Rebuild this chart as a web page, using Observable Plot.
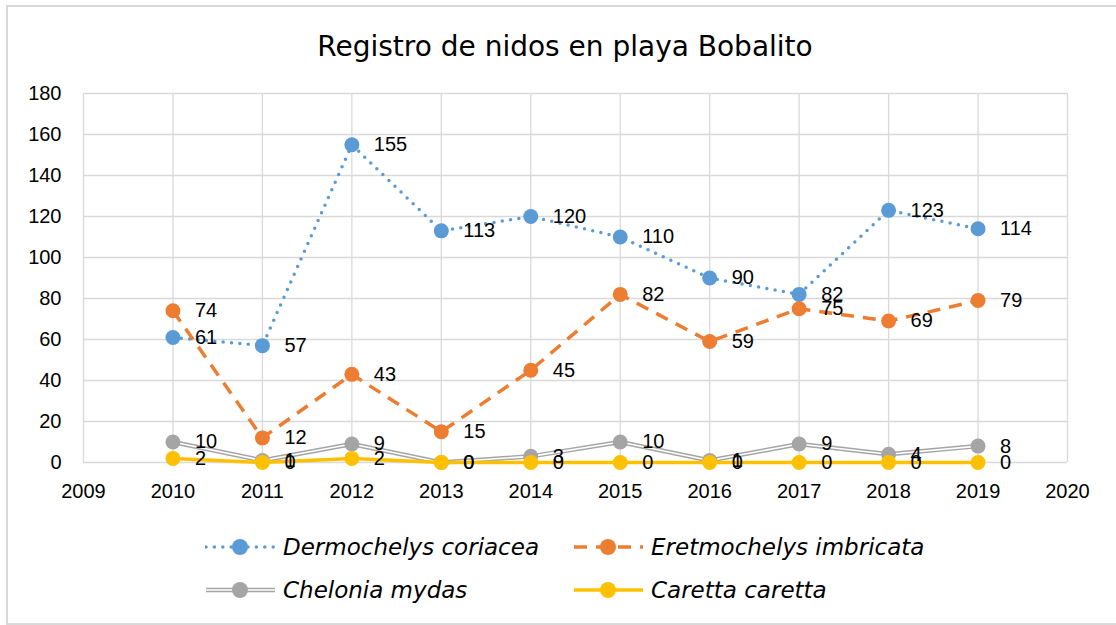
<!DOCTYPE html>
<html>
<head>
<meta charset="utf-8">
<script src="https://cdn.jsdelivr.net/npm/d3@7"></script>
<script src="https://cdn.jsdelivr.net/npm/@observablehq/plot@0.6"></script>
<style>
  html, body { margin: 0; padding: 0; background: #fff; }
  #wrap { position: relative; width: 1116px; height: 625px; overflow: hidden; background: #fff; }
  #border { position: absolute; left: 6px; top: 5px; width: 1130px; height: 616px; border: 2px solid #d9d9d9; box-sizing: content-box; }
  #title { position: absolute; top: 27px; left: 0; width: 1130px; text-align: center; font-family: "DejaVu Sans", Verdana, sans-serif; font-size: 28px; color: #000; line-height: 40px; }
  #chart { position: absolute; top: 80px; left: 0; }
  #legend { position: absolute; top: 525px; left: 0; width: 1116px; height: 100px; }
  .item { position: absolute; display: flex; align-items: center; height: 40px; }
  .item span { font-family: "DejaVu Sans", Verdana, sans-serif; font-style: italic; font-size: 23px; color: #000; margin-left: 6px; white-space: nowrap; }
</style>
</head>
<body>
<div id="wrap">
  <div id="border"></div>
  <div id="title">Registro de nidos en playa Bobalito</div>
  <div id="chart"></div>
  <div id="legend"></div>
</div>
<script>
const years = [2010, 2011, 2012, 2013, 2014, 2015, 2016, 2017, 2018, 2019];
const xTicks = [2009, 2010, 2011, 2012, 2013, 2014, 2015, 2016, 2017, 2018, 2019, 2020];
const yTicks = [0, 20, 40, 60, 80, 100, 120, 140, 160, 180];
const seriesNames = ["Dermochelys coriacea", "Eretmochelys imbricata", "Chelonia mydas", "Caretta caretta"];
const dermochelys = [61, 57, 155, 113, 120, 110, 90, 82, 123, 114];
const eretmochelys = [74, 12, 43, 15, 45, 82, 59, 75, 69, 79];
const chelonia = [10, 1, 9, 0, 3, 10, 1, 9, 4, 8];
const caretta = [2, 0, 2, 0, 0, 0, 0, 0, 0, 0];
const colors = ["#5B9BD5", "#ED7D31", "#A5A5A5", "#FFC000"];

const valuesList = [dermochelys, eretmochelys, chelonia, caretta];
const series = seriesNames.map((name, i) =>
  years.map((y, j) => ({series: name, year: y, value: valuesList[i][j], color: colors[i]}))
);

const lineStyles = [
  [{stroke: colors[0], strokeWidth: 3.5, strokeDasharray: "0 8.4", strokeLinecap: "round"}],
  [{stroke: colors[1], strokeWidth: 3.5, strokeDasharray: "13 9", strokeLinecap: "butt"}],
  [{stroke: colors[2], strokeWidth: 4.5}, {stroke: "#ffffff", strokeWidth: 1.6}],
  [{stroke: colors[3], strokeWidth: 3.5}]
];

const font = "Liberation Sans, Arial, sans-serif";
const marks = [
  Plot.gridY(yTicks, {stroke: "#d9d9d9", strokeOpacity: 1, strokeWidth: 1.3}),
  Plot.gridX(xTicks, {stroke: "#d9d9d9", strokeOpacity: 1, strokeWidth: 1.3}),
  Plot.axisY(yTicks, {label: null, tickSize: 0, tickPadding: 22, fontSize: 20, fontFamily: font, fill: "#000"}),
  Plot.axisX(xTicks, {label: null, tickSize: 0, tickPadding: 21, fontSize: 20, fontFamily: font, fill: "#000", tickFormat: d => String(d)})
];

series.forEach((data, i) => {
  lineStyles[i].forEach(st => {
    marks.push(Plot.line(data, {x: "year", y: "value", ...st, strokeLinejoin: "round"}));
  });
  marks.push(Plot.dot(data, {x: "year", y: "value", r: 7.5, fill: colors[i], stroke: "none"}));
});
series.forEach((data, i) => {
  marks.push(Plot.text(data, {x: "year", y: "value", text: d => String(d.value), dx: 22, textAnchor: "start", fontSize: 20, fontFamily: font, fill: "#000"}));
});

const chart = Plot.plot({
  width: 1116,
  height: 420,
  marginLeft: 83,
  marginRight: 49,
  marginTop: 13,
  marginBottom: 38,
  x: {domain: [2009, 2020], axis: null, label: null},
  y: {domain: [0, 180], axis: null, label: null},
  style: {background: "transparent", overflow: "visible"},
  marks
});
document.getElementById("chart").appendChild(chart);

// Legend
const legendPos = [
  {left: 205, top: 2},
  {left: 573, top: 2},
  {left: 205, top: 45},
  {left: 573, top: 45}
];
const legend = d3.select("#legend");
seriesNames.forEach((name, i) => {
  const item = legend.append("div").attr("class", "item")
    .style("left", legendPos[i].left + "px").style("top", legendPos[i].top + "px");
  const svg = item.append("svg").attr("width", 72).attr("height", 40);
  lineStyles[i].forEach(st => {
    svg.append("line").attr("x1", 1).attr("x2", 70).attr("y1", 20).attr("y2", 20)
      .attr("stroke", st.stroke).attr("stroke-width", st.strokeWidth)
      .attr("stroke-dasharray", st.strokeDasharray || null)
      .attr("stroke-linecap", st.strokeLinecap || "butt");
  });
  svg.append("circle").attr("cx", 35).attr("cy", 20).attr("r", 8).attr("fill", colors[i]);
  item.append("span").text(name);
});
</script>
</body>
</html>
